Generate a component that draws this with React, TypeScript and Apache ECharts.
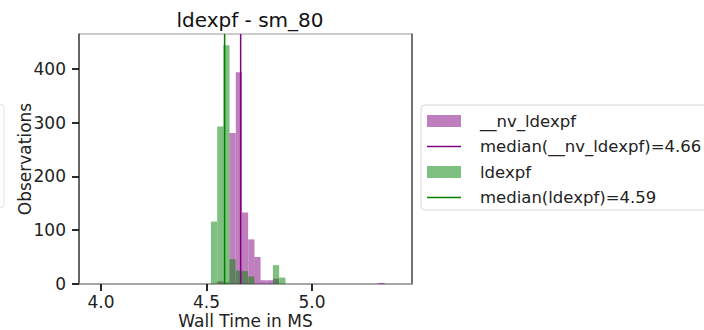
import React, { useEffect, useRef } from "react";
import * as echarts from "echarts";

// ---- data ----
const binLefts = [4.521, 4.551, 4.580, 4.609, 4.639, 4.668, 4.698, 4.727, 4.756, 4.786, 4.815, 4.845, 5.315];
const binWidth = 0.0295;
const nvCounts = [0, 5, 3, 281, 394, 133, 83, 50, 7, 7, 10, 0, 2];
const ldCounts = [116, 293, 444, 46, 25, 24, 14, 0, 0, 0, 35, 12, 0];
const medianNv = 4.662;
const medianLd = 4.586;
const xTicks = [4.0, 4.5, 5.0];
const yTicks = [0, 100, 200, 300, 400];
const legendLabels = ["__nv_ldexpf", "median(__nv_ldexpf)=4.66", "ldexpf", "median(ldexpf)=4.59"];

const X_MIN = 3.896;
const X_MAX = 5.474;
const Y_MAX = 465;

const FONT = "DejaVu Sans";
const NV_FILL = "rgba(128,0,128,0.5)";
const LD_FILL = "rgba(0,128,0,0.5)";

function histData(counts: number[]) {
  return binLefts.map((l, i) => [l, l + binWidth, counts[i]]);
}

function histRender(fill: string) {
  return (_params: any, api: any) => {
    const x0 = api.value(0);
    const x1 = api.value(1);
    const c = api.value(2);
    if (!c) return null;
    const p0 = api.coord([x0, c]);
    const p1 = api.coord([x1, 0]);
    return {
      type: "rect",
      shape: { x: p0[0], y: p0[1], width: p1[0] - p0[0], height: p1[1] - p0[1] },
      style: { fill },
    };
  };
}

export default function App() {
  const ref = useRef<HTMLDivElement>(null);
  useEffect(() => {
    if (!ref.current) return;
    const chart = echarts.init(ref.current, undefined, { renderer: "svg" });
    const rowY = [121, 146.5, 172, 197.5];
    const lx = 427;
    const legendGraphics: any[] = [
      {
        type: "rect",
        shape: { x: 421, y: 105, width: 320, height: 105, r: 4 },
        style: { fill: "rgba(255,255,255,0.85)", stroke: "#d6d6d6", lineWidth: 1 },
      },
      {
        type: "rect",
        shape: { x: -100, y: 104, width: 104, height: 104, r: 4 },
        style: { fill: "none", stroke: "#e0e0e0", lineWidth: 1 },
      },
      { type: "rect", shape: { x: lx, y: rowY[0] - 6, width: 34, height: 12 }, style: { fill: NV_FILL } },
      { type: "line", shape: { x1: lx, y1: rowY[1], x2: lx + 34, y2: rowY[1] }, style: { stroke: "purple", lineWidth: 1.5 } },
      { type: "rect", shape: { x: lx, y: rowY[2] - 6, width: 34, height: 12 }, style: { fill: LD_FILL } },
      { type: "line", shape: { x1: lx, y1: rowY[3], x2: lx + 34, y2: rowY[3] }, style: { stroke: "green", lineWidth: 1.5 } },
    ];
    legendLabels.forEach((t, i) => {
      legendGraphics.push({
        type: "text",
        x: 480,
        y: rowY[i],
        style: { text: t, fontFamily: FONT, fontSize: 16.5, fill: "#222", verticalAlign: "middle", align: "left" },
      });
    });

    chart.setOption({
      animation: false,
      backgroundColor: "#fff",
      title: {
        text: "ldexpf - sm_80",
        left: 245,
        top: 5,
        textAlign: "center",
        textStyle: { fontFamily: FONT, fontSize: 20, fontWeight: "normal", color: "#111" },
      },
      grid: {
        left: 79,
        right: 292,
        top: 34,
        bottom: 46,
        show: true,
        borderColor: "#999",
        borderWidth: 1,
        backgroundColor: "transparent",
        outerBoundsMode: "none",
        containLabel: false,
      },
      xAxis: {
        type: "value",
        min: X_MIN,
        max: X_MAX,
        name: "Wall Time in MS",
        nameLocation: "middle",
        nameGap: 28.5,
        nameMoveOverlap: false,
        nameTextStyle: { fontFamily: FONT, fontSize: 17, lineHeight: 17, color: "#222" },
        axisLine: { show: true, onZero: false, lineStyle: { color: "#999", width: 1.5 } },
        axisTick: { show: true, length: 7, customValues: xTicks, lineStyle: { color: "#111", width: 1.8 } },
        axisLabel: {
          customValues: xTicks,
          margin: 9,
          fontFamily: FONT,
          fontSize: 17,
          lineHeight: 17,
          color: "#222",
          formatter: (v: number) => v.toFixed(1),
        },
        splitLine: { show: false },
      },
      yAxis: [
        {
          type: "value",
          min: 0,
          max: Y_MAX,
          name: "Observations",
          nameLocation: "middle",
          nameGap: 46,
          nameMoveOverlap: false,
          nameTextStyle: { fontFamily: FONT, fontSize: 17, color: "#222" },
          axisLine: { show: true, lineStyle: { color: "#444", width: 1.5 } },
          axisTick: { show: true, length: 7, customValues: yTicks, lineStyle: { color: "#111", width: 1.8 } },
          axisLabel: {
            customValues: yTicks,
            margin: 13,
            fontFamily: FONT,
            fontSize: 17,
            color: "#222",
          },
          splitLine: { show: false },
        },
        {
          type: "value",
          position: "right",
          min: 0,
          max: Y_MAX,
          axisLine: { show: true, lineStyle: { color: "#555", width: 1.5 } },
          axisTick: { show: false },
          axisLabel: { show: false },
          splitLine: { show: false },
        },
      ],
      series: [
        {
          type: "custom",
          name: legendLabels[0],
          renderItem: histRender(NV_FILL),
          data: histData(nvCounts),
          encode: { x: [0, 1], y: 2 },
        },
        {
          type: "line",
          name: legendLabels[1],
          data: [[medianNv, 0], [medianNv, Y_MAX]],
          symbol: "none",
          lineStyle: { color: "purple", width: 1.5 },
        },
        {
          type: "custom",
          name: legendLabels[2],
          renderItem: histRender(LD_FILL),
          data: histData(ldCounts),
          encode: { x: [0, 1], y: 2 },
        },
        {
          type: "line",
          name: legendLabels[3],
          data: [[medianLd, 0], [medianLd, Y_MAX]],
          symbol: "none",
          lineStyle: { color: "green", width: 1.5 },
        },
      ],
      graphic: legendGraphics,
    });
    return () => chart.dispose();
  }, []);
  return (
    <div
      ref={ref}
      style={{ position: "fixed", left: 0, top: 0, width: 704, height: 330 }}
    />
  );
}
